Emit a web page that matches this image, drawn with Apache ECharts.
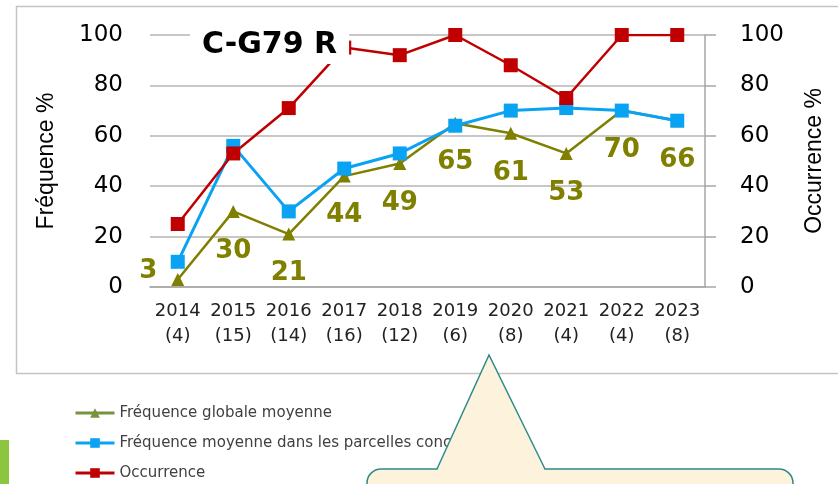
<!DOCTYPE html>
<html>
<head>
<meta charset="utf-8">
<script src="https://cdn.jsdelivr.net/npm/echarts@6/dist/echarts.min.js"></script>
<style>
  html, body { margin: 0; padding: 0; background: #fff; }
  #chart { width: 838px; height: 484px; }
</style>
</head>
<body>
<div id="chart"></div>
<script>
var years = ['2014', '2015', '2016', '2017', '2018', '2019', '2020', '2021', '2022', '2023'];
var counts = ['(4)', '(15)', '(14)', '(16)', '(12)', '(6)', '(8)', '(4)', '(4)', '(8)'];
var freqGlobale = [3, 30, 21, 44, 49, 65, 61, 53, 70, 66];
var freqParcelles = [10, 56, 30, 47, 53, 64, 70, 71, 70, 66];
var occurrence = [25, 53, 71, 95, 92, 100, 88, 75, 100, 100];

var categories = years.map(function (y, i) { return y + '\n' + counts[i]; });

// green labels: below the point, except the first one which sits on the left
var greenData = freqGlobale.map(function (v, i) {
    if (i === 0) {
        return { value: v, label: { position: 'left', distance: 14, offset: [0, -8] } };
    }
    return v;
});

var chart = echarts.init(document.getElementById('chart'));

var option = {
    animation: false,
    backgroundColor: '#fff',
    title: {
        text: 'C-G79 R',
        left: 190,
        top: 24,
        padding: [6, 12, 4, 12],
        backgroundColor: '#fff',
        textStyle: {
            fontFamily: 'DejaVu Sans',
            fontWeight: 'bold',
            fontSize: 30,
            color: '#000'
        }
    },
    legend: {
        orient: 'vertical',
        left: 74,
        top: 405,
        padding: 0,
        itemGap: 14,
        itemWidth: 39,
        itemHeight: 12,
        textStyle: { fontFamily: 'DejaVu Sans', fontSize: 15, lineHeight: 16, color: '#404040' },
        data: [
            { name: 'Fréquence globale moyenne', itemStyle: { color: '#77933C' }, lineStyle: { color: '#77933C', width: 3 } },
            { name: 'Fréquence moyenne dans les parcelles concernées', lineStyle: { width: 3 } },
            { name: 'Occurrence', lineStyle: { width: 3 } }
        ]
    },
    grid: { left: 150, right: 133, top: 35, bottom: 197 },
    xAxis: {
        type: 'category',
        data: categories,
        axisLine: { lineStyle: { color: '#A6A6A6', width: 1.5 } },
        axisTick: { show: false },
        axisLabel: {
            interval: 0,
            margin: 12,
            fontFamily: 'DejaVu Sans',
            fontSize: 18,
            lineHeight: 25,
            color: '#222'
        }
    },
    yAxis: [
        {
            type: 'value',
            min: 0,
            max: 100,
            interval: 20,
            name: 'Fréquence %',
            nameLocation: 'middle',
            nameRotate: 90,
            nameGap: 92,
            nameTextStyle: { fontFamily: 'Liberation Sans', fontSize: 23, color: '#000' },
            axisLine: { show: false },
            axisTick: { show: false },
            axisLabel: { margin: 27, fontFamily: 'DejaVu Sans', fontSize: 23, color: '#000' },
            splitLine: { lineStyle: { color: '#B4B4B4', width: 1.5 } }
        },
        {
            type: 'value',
            min: 0,
            max: 100,
            interval: 20,
            position: 'right',
            name: 'Occurrence %',
            nameLocation: 'middle',
            nameRotate: 90,
            nameGap: 98,
            nameTextStyle: { fontFamily: 'Liberation Sans', fontSize: 23, color: '#000' },
            axisLine: { show: true, lineStyle: { color: '#A6A6A6', width: 1.5 } },
            axisTick: { show: true, length: 11, lineStyle: { color: '#A6A6A6', width: 1.5 } },
            axisLabel: { margin: 35, fontFamily: 'DejaVu Sans', fontSize: 23, color: '#000' },
            splitLine: { show: false }
        }
    ],
    series: [
        {
            name: 'Fréquence globale moyenne',
            type: 'line',
            yAxisIndex: 0,
            data: greenData,
            symbol: 'triangle',
            symbolSize: 13,
            color: '#7F7F00',
            lineStyle: { width: 2.5, color: '#7F7F00' },
            label: {
                show: true,
                position: 'bottom',
                distance: 20,
                fontFamily: 'DejaVu Sans',
                fontWeight: 'bold',
                fontSize: 26,
                color: '#7F7F00'
            }
        },
        {
            name: 'Fréquence moyenne dans les parcelles concernées',
            type: 'line',
            yAxisIndex: 0,
            data: freqParcelles,
            symbol: 'rect',
            symbolSize: 14,
            color: '#0AA2F2',
            lineStyle: { width: 3, color: '#0AA2F2' }
        },
        {
            name: 'Occurrence',
            type: 'line',
            yAxisIndex: 1,
            data: occurrence,
            symbol: 'rect',
            symbolSize: 14,
            color: '#C00000',
            lineStyle: { width: 2.5, color: '#C00000' }
        }
    ],
    graphic: [
        {
            type: 'rect',
            z: -1,
            shape: { x: 16.5, y: 6.5, width: 830, height: 367 },
            style: { fill: 'none', stroke: '#C4C4C4', lineWidth: 1.5 }
        },
        {
            type: 'rect',
            z: 1,
            shape: { x: 0, y: 440, width: 9, height: 44 },
            style: { fill: '#8CC63E' }
        },
        {
            type: 'rect',
            z: 100,
            shape: { x: 367, y: 469, width: 426, height: 60, r: 14 },
            style: { fill: '#FDF2DC', stroke: '#2E8B8B', lineWidth: 1.5 }
        },
        {
            type: 'polygon',
            z: 101,
            shape: { points: [[489, 355], [437, 471], [545, 471]] },
            style: { fill: '#FDF2DC' }
        },
        {
            type: 'polyline',
            z: 102,
            shape: { points: [[437, 469], [489, 355], [545, 469]] },
            style: { fill: 'none', stroke: '#2E8B8B', lineWidth: 1.5 }
        }
    ]
};

chart.setOption(option);
</script>
</body>
</html>
